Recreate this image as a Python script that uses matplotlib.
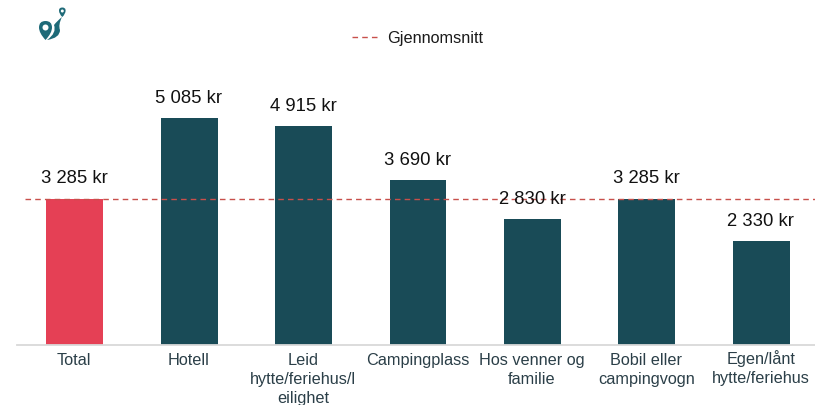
import matplotlib
matplotlib.use("Agg")
import matplotlib.pyplot as plt
from matplotlib.path import Path
from matplotlib.patches import PathPatch, Circle
from matplotlib.transforms import ScaledTranslation

categories = ["Total", "Hotell", "Leid\nhytte/feriehus/l\neilighet", "Campingplass",
              "Hos venner og\nfamilie", "Bobil eller\ncampingvogn", "Egen/lånt\nhytte/feriehus"]
values = [3285, 5085, 4915, 3690, 2830, 3285, 2330]
labels = ["3 285 kr", "5 085 kr", "4 915 kr", "3 690 kr", "2 830 kr", "3 285 kr", "2 330 kr"]
average = 3285
legend_label = "Gjennomsnitt"

W, H = 815, 405
plt.rcParams["font.family"] = ["Liberation Sans", "DejaVu Sans"]
fig = plt.figure(figsize=(W/100, H/100), dpi=100)
ax = fig.add_axes([17/W, 1-345/H, (818-17)/W, (345-60)/H])
ax.set_ylim(0, 285/(146.5/3285))
ax.set_xlim(-0.5, 6.5)
colors = ["#E54055"] + ["#194B57"]*6
ax.bar([i + 0.004 for i in range(7)], values, width=0.497, color=colors, zorder=2)
line, = ax.plot([-0.43, 6.5], [average, average], color="#C8504B", lw=1.0, ls=(0, (4, 3)), zorder=3, label=legend_label)
for i, (v, l) in enumerate(zip(values, labels)):
    ax.annotate(l, (i, v), xytext=(0, 8), textcoords="offset points", ha="center", va="bottom", fontsize=13.3, color="#111111", zorder=4)
ax.set_xticks(range(7), categories, fontsize=11.7, color="#2B3F48", linespacing=1.3)
ax.tick_params(axis="x", length=0, pad=6)
ax.set_yticks([])
# the ring on the a-with-ring makes the top of this label lower than the others: lift it back
last = ax.get_xticklabels()[-1]
last.set_transform(last.get_transform() + ScaledTranslation(0, 2.2/72, fig.dpi_scale_trans))
for s in ["top", "left", "right"]:
    ax.spines[s].set_visible(False)
ax.spines["bottom"].set_color("#D9D9D9")
ax.spines["bottom"].set_linewidth(1.3)
fig.legend(handles=[line], loc="center", bbox_to_anchor=(417.5/W, 1-38.5/H), frameon=False, fontsize=11.7, handlelength=1.66, handletextpad=0.45, labelcolor="#1A1A1A")

# logo
lax = fig.add_axes([0, 0, 1, 1], facecolor="none")
lax.set_xlim(0, W); lax.set_ylim(H, 0); lax.axis("off")
c = "#1E6A78"
C3 = Path.CURVE3
pin = Path([(45.5, 40), (39, 33), (39, 27.5), (39, 21), (45.5, 21), (52, 21), (52, 27.5), (52, 33), (45.5, 40)],
           [Path.MOVETO, C3, C3, C3, C3, C3, C3, C3, C3])
lax.add_patch(PathPatch(pin, fc=c, ec="none"))
lax.add_patch(Circle((45.5, 27.5), 3, fc="white", ec="none"))
swoosh = Path([(47, 40), (60, 38), (60, 30), (58, 25), (62, 17), (57, 21), (54, 25), (57, 33), (47, 40)],
              [Path.MOVETO, C3, C3, C3, C3, C3, C3, C3, C3])
lax.add_patch(PathPatch(swoosh, fc=c, ec="none"))
small = Path([(62.3, 17), (59, 14), (59, 10.5), (59, 7.5), (62.3, 7.5), (65.6, 7.5), (65.6, 10.5), (65.6, 14), (62.3, 17)],
             [Path.MOVETO, C3, C3, C3, C3, C3, C3, C3, C3])
lax.add_patch(PathPatch(small, fc=c, ec="none"))
lax.add_patch(Circle((62.3, 11), 1.5, fc="white", ec="none"))

fig.savefig("out.png", dpi=100)
